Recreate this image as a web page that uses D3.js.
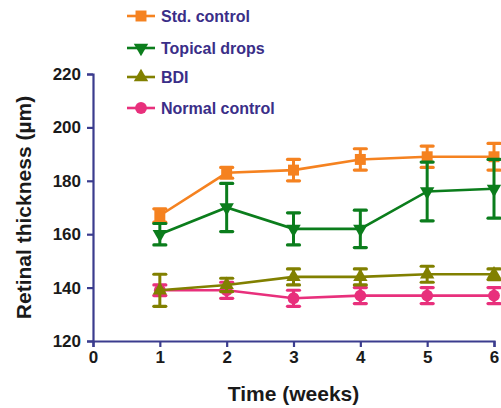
<!DOCTYPE html>
<html>
<head>
<meta charset="utf-8">
<script src="https://cdn.jsdelivr.net/npm/d3@7"></script>
<style>
  body { margin: 0; background: #fff; }
  svg { display: block; font-family: "Liberation Sans", Arial, sans-serif; }
</style>
</head>
<body>
<div id="chart"></div>
<script>
const weeks = [1, 2, 3, 4, 5, 6];
const xTicks = [0, 1, 2, 3, 4, 5, 6];
const yTicks = [120, 140, 160, 180, 200, 220];

const stdMean = [167, 183, 184, 188, 189, 189];
const stdErr = [2.5, 2, 4, 4, 4, 5];
const topMean = [160, 170, 162, 162, 176, 177];
const topErr = [4, 9, 6, 7, 11, 11];
const bdiMean = [139, 141, 144, 144, 145, 145];
const bdiErr = [6, 2.5, 3, 3, 3, 2];
const normMean = [139, 139, 136, 137, 137, 137];
const normErr = [2, 3, 3, 3, 3, 3];

const series = [
  { name: "Std. control", mean: stdMean, err: stdErr, color: "#f58220", shape: "square" },
  { name: "Topical drops", mean: topMean, err: topErr, color: "#0b7d1c", shape: "down" },
  { name: "BDI", mean: bdiMean, err: bdiErr, color: "#818000", shape: "up" },
  { name: "Normal control", mean: normMean, err: normErr, color: "#e8307c", shape: "circle" }
];
const drawOrder = [0, 3, 1, 2];

const W = 501, H = 408;
const axisColor = "#3b3c8e";
const textColor = "#3a2e88";

const x = d3.scaleLinear().domain([0, 6]).range([93, 494]);
const y = d3.scaleLinear().domain([120, 220]).range([341, 74]);

const svg = d3.select("#chart").append("svg").attr("width", W).attr("height", H);

// axes
const xAxis = svg.append("g")
  .attr("transform", `translate(0,${y(120)})`)
  .call(d3.axisBottom(x).tickValues(xTicks).tickFormat(d3.format("d")).tickSize(6).tickPadding(4));
const yAxis = svg.append("g")
  .attr("transform", `translate(${x(0)},0)`)
  .call(d3.axisLeft(y).tickValues(yTicks).tickFormat(d3.format("d")).tickSize(6).tickPadding(6));

[xAxis, yAxis].forEach((g) => {
  g.select(".domain").attr("stroke", axisColor).attr("stroke-width", 2.2);
  g.selectAll(".tick line").attr("stroke", axisColor).attr("stroke-width", 2.2);
  g.selectAll(".tick text")
    .attr("fill", "#1a1a1a")
    .style("font-size", "17px")
    .style("font-weight", "bold")
    .style("font-family", "'Liberation Sans', Arial, sans-serif");
});

function symbolPath(shape) {
  if (shape === "square") return d3.symbol().type(d3.symbolSquare).size(120)();
  if (shape === "circle") return d3.symbol().type(d3.symbolCircle).size(110)();
  return d3.symbol().type(d3.symbolTriangle).size(90)();
}

const line = d3.line().x((d) => x(d.w)).y((d) => y(d.v));

drawOrder.forEach((si) => {
  const s = series[si];
  const pts = weeks.map((w, i) => ({ w: w, v: s.mean[i], e: s.err[i] }));
  const g = svg.append("g");

  g.append("path")
    .datum(pts)
    .attr("d", line)
    .attr("fill", "none")
    .attr("stroke", s.color)
    .attr("stroke-width", 2.6);

  const eb = g.selectAll(".eb").data(pts).enter().append("g");
  eb.append("line")
    .attr("x1", (d) => x(d.w)).attr("x2", (d) => x(d.w))
    .attr("y1", (d) => y(d.v + d.e)).attr("y2", (d) => y(d.v - d.e))
    .attr("stroke", s.color).attr("stroke-width", 3);
  [1, -1].forEach((sg) => {
    eb.append("line")
      .attr("x1", (d) => x(d.w) - 6).attr("x2", (d) => x(d.w) + 6)
      .attr("y1", (d) => y(d.v + sg * d.e)).attr("y2", (d) => y(d.v + sg * d.e))
      .attr("stroke", s.color).attr("stroke-width", 3.2)
      .attr("stroke-linecap", "round");
  });

  g.selectAll(".mk").data(pts).enter().append("path")
    .attr("d", symbolPath(s.shape))
    .attr("transform", (d) => `translate(${x(d.w)},${y(d.v)})` + (s.shape === "down" ? " rotate(180)" : ""))
    .attr("fill", s.color);
});

// legend
const legendY = [16, 48, 77, 108];
const legend = svg.selectAll(".legend").data(series).enter().append("g")
  .attr("transform", (d, i) => `translate(127,${legendY[i]})`);
legend.append("line")
  .attr("x1", 0).attr("x2", 28).attr("y1", 0).attr("y2", 0)
  .attr("stroke", (d) => d.color).attr("stroke-width", 2.6);
legend.append("path")
  .attr("d", (d) => symbolPath(d.shape))
  .attr("transform", (d) => "translate(14,0)" + (d.shape === "down" ? " rotate(180)" : ""))
  .attr("fill", (d) => d.color);
legend.append("text")
  .attr("x", 34).attr("y", 0).attr("dy", "0.36em")
  .attr("fill", textColor)
  .style("font-size", "16px").style("font-weight", "bold")
  .text((d) => d.name);

// axis titles
svg.append("text")
  .attr("x", (x(0) + x(6)) / 2).attr("y", 401)
  .attr("text-anchor", "middle")
  .attr("fill", "#1a1a1a")
  .style("font-size", "21px").style("font-weight", "bold")
  .text("Time (weeks)");
svg.append("text")
  .attr("transform", `translate(31,${(y(120) + y(220)) / 2}) rotate(-90)`)
  .attr("text-anchor", "middle")
  .attr("fill", "#1a1a1a")
  .style("font-size", "21px").style("font-weight", "bold")
  .text("Retinal thickness (µm)");
</script>
</body>
</html>
